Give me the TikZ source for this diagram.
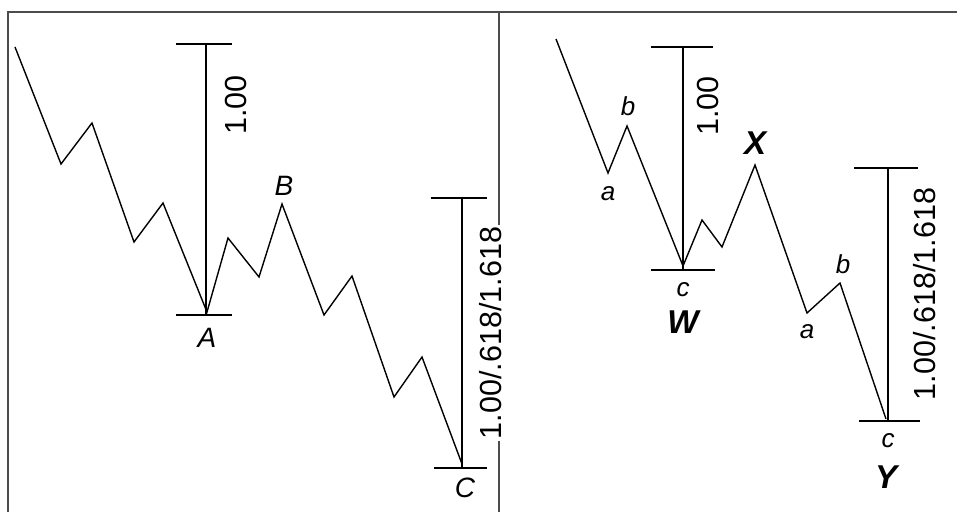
\documentclass[tikz,border=0pt]{standalone}
\usepackage{fontspec}
\setmainfont{Liberation Sans}
\usetikzlibrary{positioning}
\tikzstyle{frame} = [line width=1.8pt, draw=black!70]
\tikzstyle{wave} = [line width=1.4pt, line join=miter]
\tikzstyle{measure} = [line width=1.6pt]
\tikzstyle{ratio} = [
    rotate=90,
    font=\fontsize{30.5}{32}\selectfont,
    inner sep=2pt
]
\tikzstyle{point} = [font=\fontsize{28}{30}\selectfont\itshape, inner sep=0pt]
\tikzstyle{subpoint} = [font=\fontsize{26}{28}\selectfont\itshape, inner sep=0pt]
\tikzstyle{bigpoint} = [font=\fontsize{33}{35}\selectfont\bfseries\itshape, inner sep=0pt]

\begin{document}
\begin{tikzpicture}[x=1pt, y=-1pt]

\useasboundingbox (0,0) rectangle (957,512);

% frame
\coordinate (corner) at (8,12);
\coordinate (frametop) at (957,12);
\coordinate (framebot) at (8,512);
\coordinate (divtop) at (499,12);
\coordinate (divbot) at (499,512);

% left panel: zigzag
\coordinate (l0) at (15,47);
\coordinate (l1) at (61,164);
\coordinate (l2) at (92,123);
\coordinate (l3) at (134,242);
\coordinate (l4) at (163,203);
\coordinate (ptA) at (207,312);
\coordinate (l5) at (228,238);
\coordinate (l6) at (259,277);
\coordinate (ptB) at (282,204);
\coordinate (l7) at (324,315);
\coordinate (l8) at (352,276);
\coordinate (l9) at (394,397);
\coordinate (l10) at (422,357);
\coordinate (ptC) at (462,464);

% left panel: measures
\coordinate (topAB) at (206,44);
\coordinate (botAB) at (206,315);
\coordinate (topC) at (462,198);
\coordinate (botC) at (462,468);

% right panel: zigzag
\coordinate (r0) at (556,39);
\coordinate (wa) at (608,173);
\coordinate (wb) at (627,126);
\coordinate (ptW) at (683,266);
\coordinate (r1) at (702,220);
\coordinate (r2) at (722,247);
\coordinate (ptX) at (755,165);
\coordinate (ya) at (807,313);
\coordinate (yb) at (840,283);
\coordinate (ptY) at (886,419);

% right panel: measures
\coordinate (topW) at (683,47);
\coordinate (botW) at (683,270);
\coordinate (topY) at (888,168);
\coordinate (botY) at (888,421);

% labels
\node (ratioL) [ratio] at (491,333) {1.00/.618/1.618};
\node (oneL) [ratio] at (236,105) {1.00};
\node (labA) [point] at (207,338) {A};
\node (labB) [point] at (284,186) {B};
\node (labC) [point] at (465,488) {C};

\node (ratioR) [ratio] at (925,294) {1.00/.618/1.618};
\node (oneR) [ratio] at (708,106) {1.00};
\node (labWa) [subpoint] at (608,194) {a};
\node (labWb) [subpoint] at (628,106) {b};
\node (labWc) [subpoint] at (683,290) {c};
\node (labW) [bigpoint] at (683,322) {W};
\node (labX) [bigpoint] at (755,143) {X};
\node (labYa) [subpoint] at (807,332) {a};
\node (labYb) [subpoint] at (843,264) {b};
\node (labYc) [subpoint] at (888,441) {c};
\node (labY) [bigpoint] at (886,477) {Y};

\draw [frame] (framebot) -- (corner) -- (frametop);
\draw [frame] (divtop) -- (ratioL.east -| divtop);
\draw [frame] (ratioL.west -| divbot) -- (divbot);

\draw [wave] (l0) -- (l1) -- (l2) -- (l3) -- (l4) -- (ptA) -- (l5) -- (l6)
    -- (ptB) -- (l7) -- (l8) -- (l9) -- (l10) -- (ptC);
\draw [wave] (r0) -- (wa) -- (wb) -- (ptW) -- (r1) -- (r2) -- (ptX)
    -- (ya) -- (yb) -- (ptY);

\draw [measure] (topAB) -- (botAB);
\draw [measure] ([xshift=-30pt]topAB) -- ([xshift=26pt]topAB);
\draw [measure] ([xshift=-30pt]botAB) -- ([xshift=26pt]botAB);
\draw [measure] (topC) -- (botC);
\draw [measure] ([xshift=-31pt]topC) -- ([xshift=25pt]topC);
\draw [measure] ([xshift=-28pt]botC) -- ([xshift=25pt]botC);

\draw [measure] (topW) -- (botW);
\draw [measure] ([xshift=-32pt]topW) -- ([xshift=30pt]topW);
\draw [measure] ([xshift=-32pt]botW) -- ([xshift=32pt]botW);
\draw [measure] (topY) -- (botY);
\draw [measure] ([xshift=-34pt]topY) -- ([xshift=30pt]topY);
\draw [measure] ([xshift=-29pt]botY) -- ([xshift=32pt]botY);

\end{tikzpicture}
\end{document}
